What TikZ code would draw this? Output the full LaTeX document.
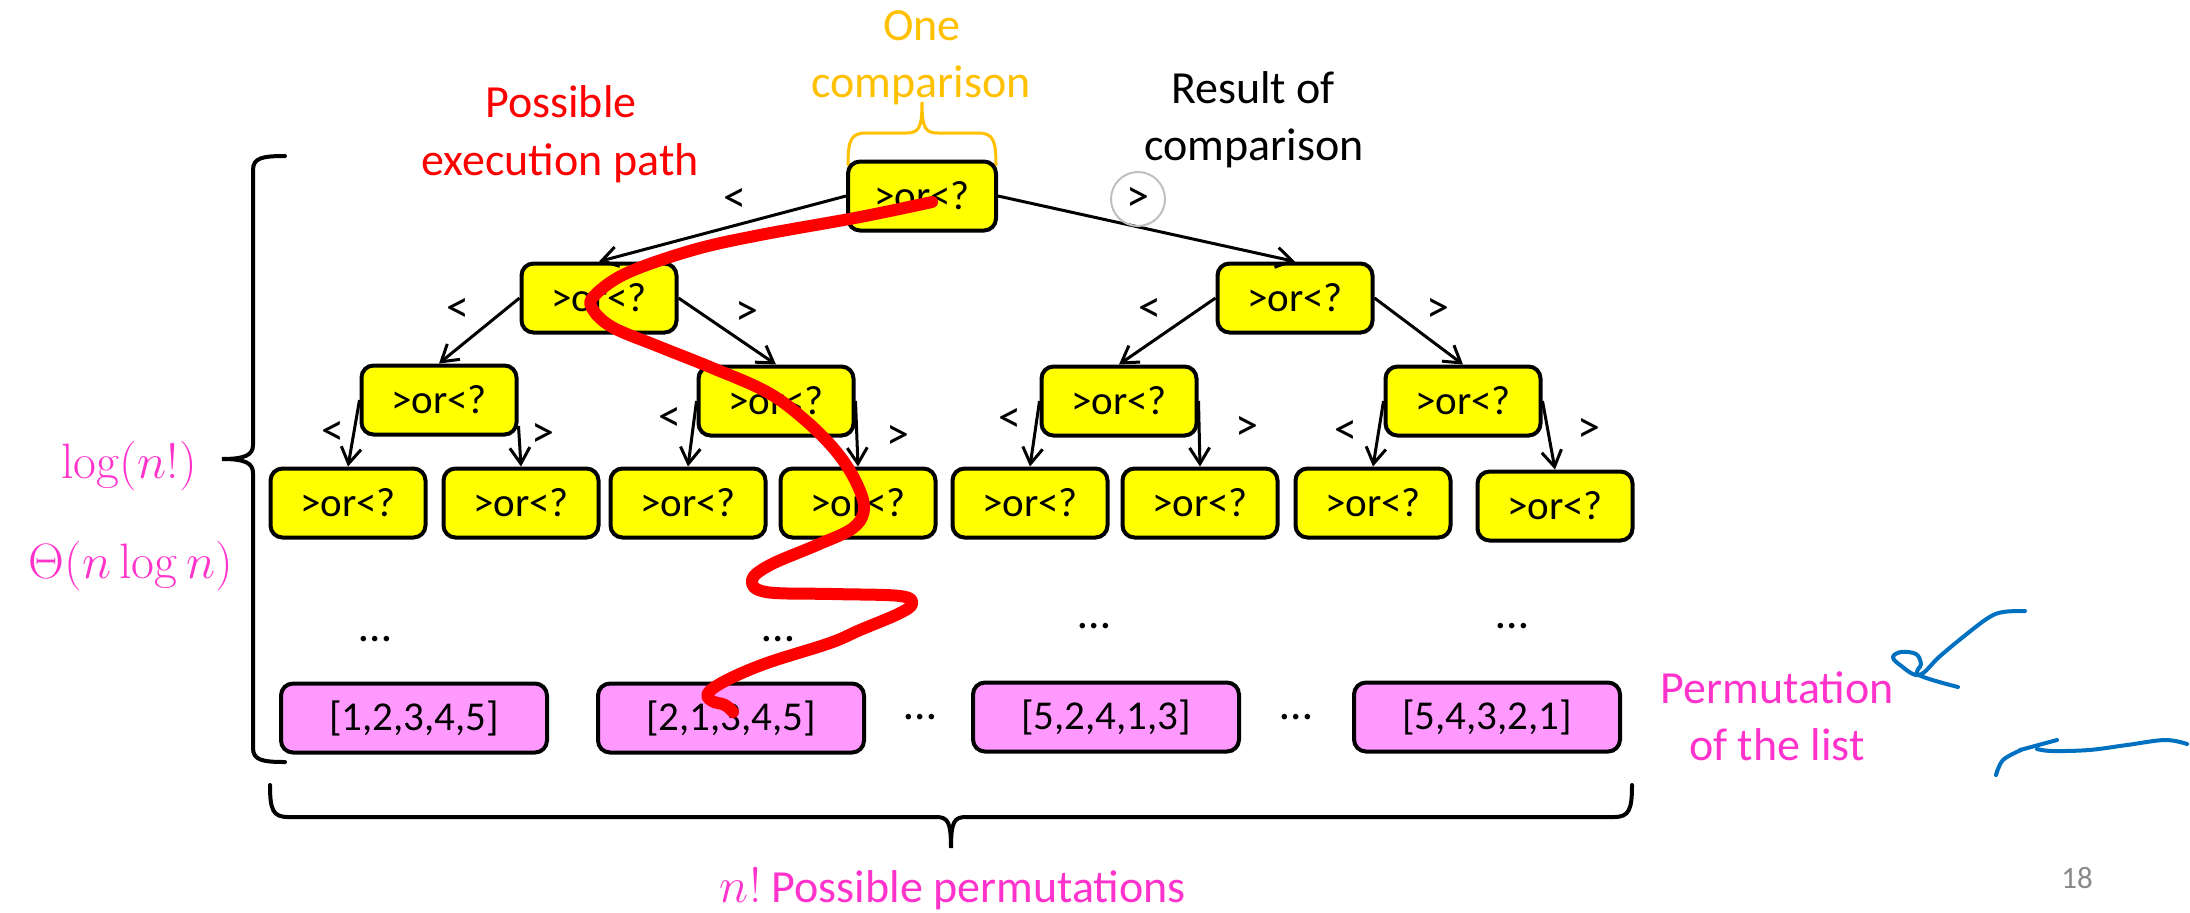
\documentclass[tikz,border=0pt]{standalone}
\usepackage[no-math]{fontspec}
\setmainfont{Carlito}
\usetikzlibrary{arrows.meta}
\definecolor{qyellow}{RGB}{255,255,0}
\definecolor{leafpink}{RGB}{255,153,255}
\definecolor{txtmag}{RGB}{255,51,204}
\definecolor{txtorange}{RGB}{255,192,0}
\definecolor{penblue}{RGB}{0,112,192}
\definecolor{pagegray}{RGB}{137,137,137}
\definecolor{circgray}{RGB}{191,191,191}
\begin{document}
\begin{tikzpicture}[x=0.5pt,y=-0.5pt,
  q/.style={draw, line width=2pt, rounded corners=6pt, fill=qyellow, minimum width=77.5pt, minimum height=34.5pt, inner sep=0pt, font=\fontsize{20.5}{24}\selectfont},
  leaf/.style={draw, line width=2pt, rounded corners=6pt, fill=leafpink, minimum width=133pt, minimum height=34.5pt, inner sep=0pt, font=\fontsize{20.5}{24}\selectfont},
  edge/.style={line width=1.5pt, -{Straight Barb[length=8pt,width=10pt]}},
  lbl/.style={font=\fontsize{23}{28}\selectfont, inner sep=0pt},
  big/.style={font=\fontsize{23}{28}\selectfont, inner sep=0pt, anchor=base},
  mathlbl/.style={font=\fontsize{26}{31}\selectfont, inner sep=0pt, anchor=base, text=txtmag},
  brace/.style={line width=2pt, line cap=round},
  redpath/.style={line width=6pt, red, line cap=round, line join=round},
  pen/.style={line width=2pt, penblue, line cap=round, line join=round}
]
\useasboundingbox (0,0) rectangle (2190,912);

% ---- titles
\node[big, text=txtorange] (one1) at (922,40) {One};
\node[big, text=txtorange] (one2) at (921,97) {comparison};
\node[big, text=red] (pos1) at (561,117) {Possible};
\node[big, text=red] (pos2) at (560,175) {execution path};
\node[big] (res1) at (1253,103) {Result of};
\node[big] (res2) at (1254,160) {comparison};

% orange brace
\draw[brace, txtorange, line width=1.5pt]
  (848,165) .. controls (848,140) and (851,133) .. (866,133) -- (906,133)
  .. controls (919,133) and (922,128) .. (922,102)
  .. controls (922,128) and (925,133) .. (938,133) -- (978,133)
  .. controls (993,133) and (996,140) .. (996,165);

% ---- tree nodes
\node[q, minimum width=74pt] (root) at (922,196) {>or<?};
\node[q] (a1) at (599,298) {>or<?};
\node[q] (a2) at (1295,298) {>or<?};
\node[q] (b1) at (439,400) {>or<?};
\node[q] (b2) at (776,401) {>or<?};
\node[q] (b3) at (1119,401) {>or<?};
\node[q] (b4) at (1463,401) {>or<?};
\node[q] (c1) at (348,503) {>or<?};
\node[q] (c2) at (521,503) {>or<?};
\node[q] (c3) at (688,503) {>or<?};
\node[q] (c4) at (858,503) {>or<?};
\node[q] (c5) at (1030,503) {>or<?};
\node[q] (c6) at (1200,503) {>or<?};
\node[q] (c7) at (1373,503) {>or<?};
\node[q] (c8) at (1555,506) {>or<?};

% ---- edges
\draw[edge] (root.west) -- (a1.north);
\draw[edge] (root.east) -- (a2.north);
\draw[edge] (a1.west) -- (b1.north);
\draw[edge] (a1.east) -- (b2.north);
\draw[edge] (a2.west) -- (b3.north);
\draw[edge] (a2.east) -- (b4.north);
\draw[edge] (b1.west) -- (c1.north);
\draw[edge] ([yshift=-13pt]b1.east) -- (c2.north);
\draw[edge] (b2.west) -- (c3.north);
\draw[edge] (b2.east) -- (c4.north);
\draw[edge] (b3.west) -- (c5.north);
\draw[edge] (b3.east) -- (c6.north);
\draw[edge] (b4.west) -- (c7.north);
\draw[edge] (b4.east) -- (c8.north);

% ---- edge labels
\node[lbl] (l0l) at (735,200) {<};
\node[lbl, circle, draw=circgray, line width=1pt, minimum size=27pt] (l0r) at (1138,199) {>};
\node[lbl] (l1l) at (458,310) {<};
\node[lbl] (l1r) at (747,313) {>};
\node[lbl] (l2l) at (1150,310) {<};
\node[lbl] (l2r) at (1438,310) {>};
\node[lbl] (l3l) at (333,433) {<};
\node[lbl] (l3r) at (543,435) {>};
\node[lbl] (l4l) at (670,419) {<};
\node[lbl] (l4r) at (898,437) {>};
\node[lbl] (l5l) at (1010,420) {<};
\node[lbl] (l5r) at (1247,428) {>};
\node[lbl] (l6l) at (1346,432) {<};
\node[lbl] (l6r) at (1589,430) {>};

% ---- dots
\node[big] (d1) at (375,641) {…};
\node[big] (d2) at (778,641) {…};
\node[big] (d3) at (1094,628) {…};
\node[big] (d4) at (1512,628) {…};
\node[big] (d5) at (920,719) {…};
\node[big] (d6) at (1296,719) {…};

% ---- leaves
\node[leaf] (p1) at (414,718) {[1,2,3,4,5]};
\node[leaf] (p2) at (731,718) {[2,1,3,4,5]};
\node[leaf] (p3) at (1106,717) {[5,2,4,1,3]};
\node[leaf] (p4) at (1487,717) {[5,4,3,2,1]};

% ---- left brace
\draw[brace]
  (285,156) .. controls (262,156) and (253,158) .. (253,170) -- (253,445)
  .. controls (253,455) and (245,459) .. (222,459)
  .. controls (245,459) and (253,463) .. (253,473) -- (253,748)
  .. controls (253,760) and (262,762) .. (285,762);
\node[mathlbl] (lg) at (129,478) {$\log(n!)$};
\node[mathlbl] (th) at (131,578) {$\Theta(n\log n)$};

% ---- bottom brace
\draw[brace]
  (270,785) .. controls (270,810) and (273,817) .. (288,817) -- (936,817)
  .. controls (948,817) and (951,822) .. (951,848)
  .. controls (951,822) and (954,817) .. (966,817) -- (1614,817)
  .. controls (1629,817) and (1632,810) .. (1632,785);
\node[big, text=txtmag] (np) at (953,902) {$n!$ Possible permutations};

% ---- right labels
\node[big, text=txtmag] (pm1) at (1777,703) {Permutation};
\node[big, text=txtmag] (pm2) at (1777,760) {of the list};
\node[anchor=base, text=pagegray, font=\fontsize{15.5}{18}\selectfont, inner sep=0pt] (pg) at (2077,888) {18};

% ---- red execution path
\draw[redpath] plot[smooth, tension=0.6] coordinates {
 (932,202) (860,217) (760,235) (693,250) (627,273) (595,295) (592,308) (612,327)
 (660,347) (710,367) (767,392) (805,420) (835,450) (855,480) (864,508) (853,528)
 (817,545) (770,565) (752,580) (766,592) (833,594) (900,596) (912,604) (898,614)
 (860,630) (830,643) (767,663) (727,680) (708,693) (712,701) (725,705) (733,712)};

% ---- blue pen strokes
\draw[pen] plot[smooth, tension=0.6] coordinates {
 (2025,611) (2003,612) (1988,618) (1963,637) (1939,657) (1919,675)
 (1900,665) (1893,657) (1901,652) (1916,654) (1921,664) (1919,675) (1958,687)};
\draw[pen] plot[smooth, tension=0.6] coordinates {
 (2187,744) (2165,740) (2127,745) (2089,750) (2052,751) (2037,749)};
\draw[pen] (2057,740) -- (2020,750);
\draw[pen] plot[smooth, tension=0.6] coordinates {
 (2021,750) (2003,760) (1996,775)};
\end{tikzpicture}
\end{document}
